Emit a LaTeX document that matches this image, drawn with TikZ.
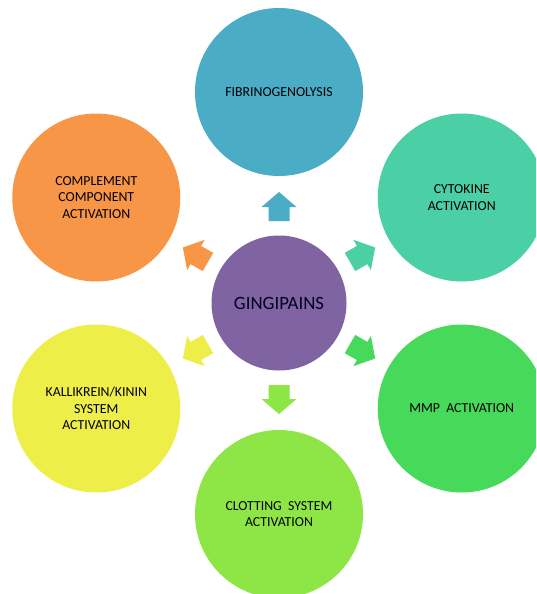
\documentclass[tikz,border=0pt]{standalone}
\usepackage{fontspec}
\setmainfont{Carlito}
\usetikzlibrary{calc}
\begin{document}
\begin{tikzpicture}[x=1pt,y=1pt,
  bubble/.style={circle, minimum size=168pt, inner sep=0pt, align=center,
    text=black, font=\fontsize{13.8}{16.5}\selectfont},
  hub/.style={circle, minimum size=135pt, inner sep=0pt, fill=hubc,
    text=black!85!blue, font=\fontsize{18.8}{22}\selectfont}]
\definecolor{hubc}{HTML}{8064A2}
\definecolor{cblue}{HTML}{4BACC6}
\definecolor{cteal}{HTML}{4BD0A5}
\definecolor{cgreen}{HTML}{47DA5A}
\definecolor{clime}{HTML}{8EE646}
\definecolor{cyellow}{HTML}{EEEE48}
\definecolor{corange}{HTML}{F79646}
\clip (0,0) rectangle (536,-594);
\fill[white] (0,0) rectangle (536,-594);
\coordinate (C) at (279,-303);
\node[hub] (hub) at (C) {GINGIPAINS};
\node[bubble, fill=cblue]   (fib) at ($(C)+(90:211)$)   {FIBRINOGENOLYSIS};
\node[bubble, fill=cteal]   (cyt) at ($(C)+(30:211)$)   {CYTOKINE\\ACTIVATION};
\node[bubble, fill=cgreen]  (mmp) at ($(C)+(-30:211)$)  {MMP\ \ ACTIVATION};
\node[bubble, fill=clime]   (clo) at ($(C)+(-90:211)$)  {CLOTTING\ \ SYSTEM\\ACTIVATION};
\node[bubble, fill=cyellow] (kal) at ($(C)+(-150:211)$) {KALLIKREIN/KININ\\SYSTEM\\ACTIVATION};
\node[bubble, fill=corange] (com) at ($(C)+(150:211)$)  {COMPLEMENT\\COMPONENT\\ACTIVATION};
\foreach \a/\c in {90/cblue,30/cteal,-30/cgreen,-90/clime,-150/cyellow,150/corange}{
  \begin{scope}[shift={(C)},rotate=\a]
    \fill[\c] (82,-10.5) -- (96,-10.5) -- (96,-17.5) -- (111,0) -- (96,17.5) -- (96,10.5) -- (82,10.5) -- cycle;
  \end{scope}
}
\end{tikzpicture}
\end{document}
